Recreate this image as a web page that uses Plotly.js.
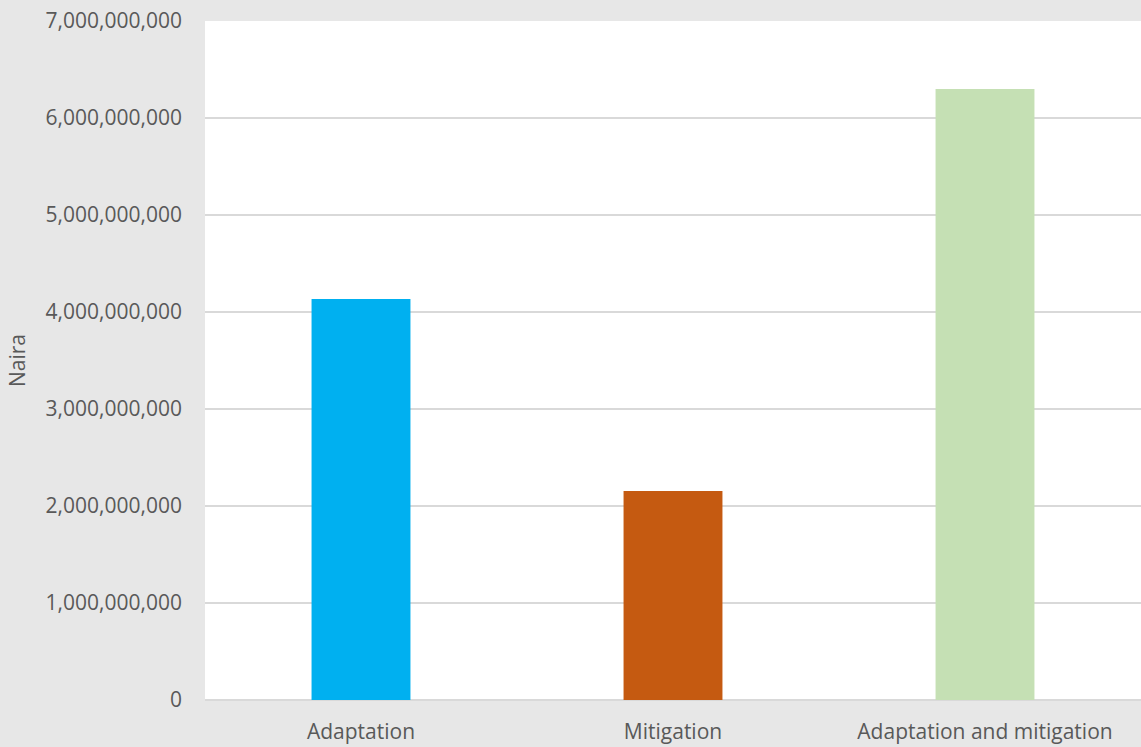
<!DOCTYPE html>
<html><head><meta charset="utf-8">
<script src="https://cdn.plot.ly/plotly-3.0.1.min.js"></script>
<style>html,body{margin:0;padding:0;background:#e7e7e7;}#chart{width:1141px;height:747px;}</style>
</head><body><div id="chart"></div>
<script>
var categories = ["Adaptation", "Mitigation", "Adaptation and mitigation"];
var values = [4134000000, 2155000000, 6299000000];
var barColors = ["#00b0f0", "#c55a11", "#c5e0b4"];
var tickVals = [0,1e9,2e9,3e9,4e9,5e9,6e9,7e9];
var tickText = ["0","1,000,000,000","2,000,000,000","3,000,000,000","4,000,000,000","5,000,000,000","6,000,000,000","7,000,000,000"];

var trace = {type:"bar", x:categories, y:values, marker:{color:barColors}, width:0.317, hoverinfo:"x+y"};
var layout = {
  width:1141, height:747,
  paper_bgcolor:"#e7e7e7", plot_bgcolor:"#ffffff",
  margin:{l:205, r:0, t:21, b:47, autoexpand:false},
  font:{family:"Open Sans, Noto Sans, sans-serif", size:21, color:"#595959"},
  showlegend:false,
  xaxis:{type:"category", showgrid:false, zeroline:false, showline:false, ticks:"", tickfont:{size:21, color:"#595959"}, ticklabelstandoff:17, automargin:false},
  yaxis:{range:[0,7e9], tickvals:tickVals, ticktext:tickText, showgrid:true, gridcolor:"#d9d9d9", gridwidth:1.5, zeroline:true, zerolinecolor:"#d9d9d9", zerolinewidth:1.5, ticks:"", ticklabelstandoff:22, tickfont:{size:21, color:"#595959"}, automargin:false,
    title:{text:"Naira", font:{size:21, color:"#595959"}, standoff:14}}
};
Plotly.newPlot("chart", [trace], layout, {displayModeBar:false, staticPlot:true});
</script></body></html>
